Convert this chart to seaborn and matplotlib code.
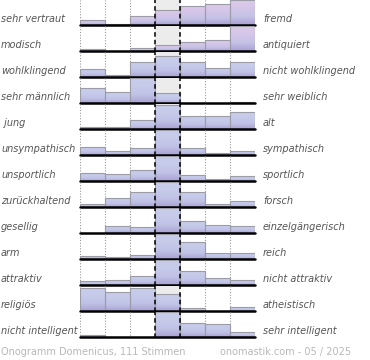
import numpy as np
import pandas as pd
import seaborn as sns
import matplotlib
matplotlib.use("Agg")
import matplotlib.pyplot as plt
from matplotlib.colors import LinearSegmentedColormap
from matplotlib.transforms import blended_transform_factory

# Onogramm Domenicus, 111 Stimmen - Balkenhoehe je Stufe (1..7)
links = ["sehr vertraut", "modisch", "wohlklingend", "sehr männlich", " jung",
         "unsympathisch", "unsportlich", "zurückhaltend", "gesellig", "arm",
         "attraktiv", "religiös", "nicht intelligent"]
rechts = ["fremd", "antiquiert", "nicht wohlklingend", "sehr weiblich", "alt",
          "sympathisch", "sportlich", "forsch", "einzelgängerisch", "reich",
          "nicht attraktiv", "atheistisch", "sehr intelligent"]
stufen = [1, 2, 3, 4, 5, 6, 7]
werte = [
    [5.0, 1.3, 8.7, 14.7, 18.7, 20.7, 25.0],
    [1.7, 0.3, 2.7, 6.0, 9.3, 10.7, 25.0],
    [8.3, 2.3, 15.3, 21.0, 15.3, 9.3, 14.7],
    [15.0, 10.7, 25.0, 10.0, 0.0, 0.0, 1.3],
    [2.3, 2.3, 8.7, 24.0, 13.0, 13.0, 16.7],
    [8.3, 4.3, 7.3, 25.0, 7.3, 2.3, 4.3],
    [8.0, 7.0, 11.0, 25.0, 6.0, 2.0, 4.7],
    [3.3, 9.3, 15.3, 25.0, 15.3, 3.3, 6.0],
    [0.5, 7.3, 6.0, 25.0, 11.7, 8.3, 7.3],
    [3.3, 2.3, 4.3, 25.0, 17.3, 5.7, 5.7],
    [4.0, 4.7, 9.0, 25.0, 14.0, 6.7, 5.3],
    [23.3, 19.3, 23.3, 17.3, 2.7, 0.0, 3.7],
    [1.7, 0.0, 0.0, 25.0, 14.3, 13.3, 4.7],
]
rosa_zeilen = {0, 1}
titel = "Onogramm Domenicus, 111 Stimmen"
quelle = "onomastik.com - 05 / 2025"

sns.set_theme(style="white")
plt.rcParams["font.family"] = ["DejaVu Sans"]

blau = LinearSegmentedColormap.from_list("blau", ["#aaa2d4", "#c0c2e6", "#c6cbea", "#c8cdeb"])
rosa = LinearSegmentedColormap.from_list("rosa", ["#aaa2d4", "#c4c2e6", "#d4c6e8", "#dfc9e9"])

fig = plt.figure(figsize=(3.7, 3.6), dpi=100)
n = len(links)
top_px, bottom_px = 0, 338
row_h = (bottom_px - top_px) / n
ax_left, ax_w = 80 / 370, 175 / 370
grad = np.linspace(0, 1, 64).reshape(-1, 1)

for i in range(n):
    y0 = 1 - (top_px + (i + 1) * row_h) / 360
    ax = fig.add_axes([ax_left, y0, ax_w, row_h / 360])
    df = pd.DataFrame({"stufe": stufen, "wert": werte[i]})
    sns.barplot(data=df, x="stufe", y="wert", ax=ax, width=1.0,
                color="#c6cbea", edgecolor="#9c9ca6", linewidth=0.8,
                errorbar=None, zorder=3)
    cmap = rosa if i in rosa_zeilen else blau
    for p in ax.patches:
        x, w, h = p.get_x(), p.get_width(), p.get_height()
        if h <= 0:
            continue
        im = ax.imshow(grad, cmap=cmap, origin="lower", aspect="auto",
                       extent=[x, x + w, 0, h], zorder=2.5,
                       interpolation="bilinear")
        im.set_clip_path(p)
        p.set_facecolor("none")
    ax.axvspan(2.5, 3.5, color="#ececec", zorder=0, lw=0)
    for xv in [-0.5, 0.5, 1.5, 4.5, 5.5]:
        ax.axvline(xv, color="#999999", ls=(0, (1, 1.5)), lw=0.8, zorder=1)
    for xv in [2.5, 3.5]:
        ax.axvline(xv, color="black", ls=(0, (3, 2)), lw=1.1, zorder=4)
    ax.axhline(0, color="black", lw=1.8, zorder=5, clip_on=False)
    ax.set_xlim(-0.5, 6.5)
    ax.set_ylim(-1, row_h - 1)
    ax.set_axis_off()

    tr = blended_transform_factory(fig.transFigure, ax.transAxes)
    ax.text(1 / 370, 0.27, links[i], transform=tr, ha="left", va="center",
            fontsize=7, style="italic", color="#555555")
    ax.text(263 / 370, 0.27, rechts[i], transform=tr, ha="left", va="center",
            fontsize=7, style="italic", color="#555555")

fig.text(1 / 370, 1 - 352 / 360, titel, ha="left", va="center",
         fontsize=7, color="#b8b8b8")
fig.text(220 / 370, 1 - 352 / 360, quelle, ha="left", va="center",
         fontsize=7, color="#b8b8b8")

fig.savefig("out.png", dpi=100, facecolor="white")
